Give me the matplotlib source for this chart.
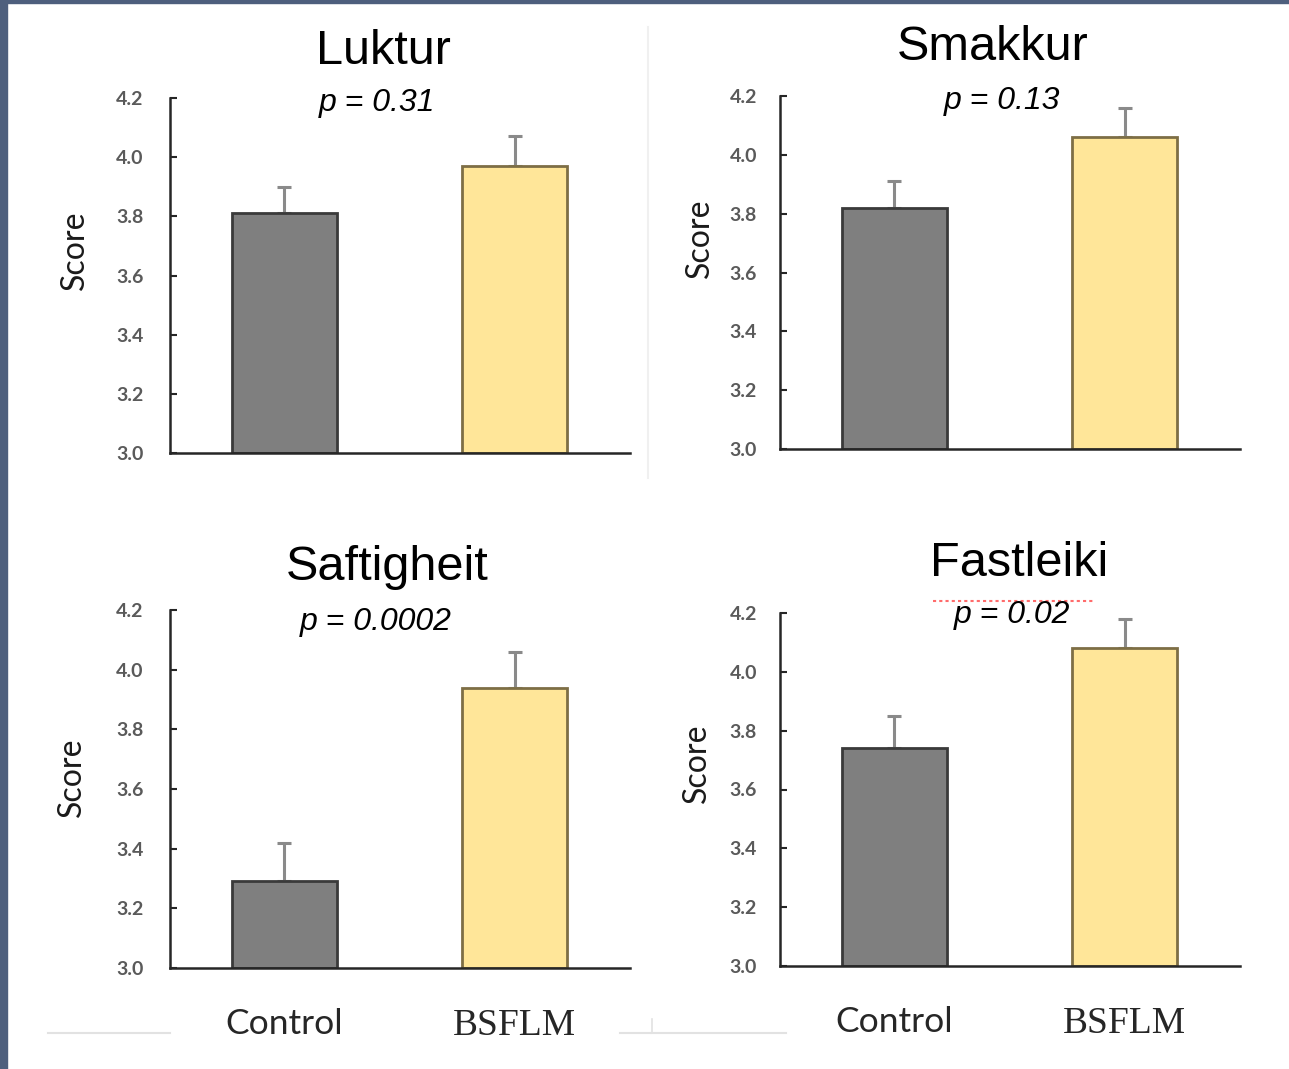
import matplotlib
matplotlib.use("Agg")
import matplotlib.pyplot as plt
from matplotlib.lines import Line2D

# Sensory scores (mean and standard error) per attribute
attributes = ["Luktur", "Smakkur", "Saftigheit", "Fastleiki"]
p_values = ["p = 0.31", "p = 0.13", "p = 0.0002", "p = 0.02"]
groups = ["Control", "BSFLM"]
control_mean = [3.81, 3.82, 3.29, 3.74]
control_se = [0.09, 0.09, 0.13, 0.11]
bsflm_mean = [3.97, 4.06, 3.94, 4.08]
bsflm_se = [0.10, 0.10, 0.12, 0.10]
y_ticks = [3.0, 3.2, 3.4, 3.6, 3.8, 4.0, 4.2]
y_ticklabels = ["3.0", "3.2", "3.4", "3.6", "3.8", "4.0", "4.2"]

W, H = 1289, 1069
fig = plt.figure(figsize=(W / 100, H / 100), dpi=100)
fig.patch.set_facecolor("white")

def fx(px):
    return px / W

def fy(py):
    return 1 - py / H

# slide frame: dark band on the left and top
fig.add_artist(plt.Rectangle((0, 0), fx(7), 1, transform=fig.transFigure,
                             color="#4e5f7d", zorder=0))
fig.add_artist(plt.Rectangle((0, fy(3)), 1, fy(0) - fy(3), transform=fig.transFigure,
                             color="#4e5f7d", zorder=0))

# faint separators
fig.add_artist(Line2D([fx(648), fx(648)], [fy(27), fy(478)], transform=fig.transFigure,
                      color="#f0f0f0", lw=1.5))
for x0, x1 in [(48, 170), (620, 650), (652, 786)]:
    fig.add_artist(Line2D([fx(x0), fx(x1)], [fy(1033), fy(1033)], transform=fig.transFigure,
                          color="#e2e2e2", lw=1.5))
fig.add_artist(Line2D([fx(652), fx(652)], [fy(1019), fy(1033)], transform=fig.transFigure,
                      color="#e2e2e2", lw=1.2))

# panel geometry in pixels: (left, right, y at 4.2, y at 3.0)
panels = [(170, 630, 98, 453), (780, 1240, 96, 449),
          (170, 630, 610, 968), (780, 1240, 613, 966)]
title_pos = [(383, 52), (993, 47), (387, 567), (1019, 563)]
p_pos = [(377, 103), (1002, 101), (376, 622), (1012, 615)]
score_pos = [(75, 250), (700, 238), (72, 777), (697, 763)]

bar_fill = ["#7f7f7f", "#ffe699"]
bar_edge = ["#3a3a3a", "#7d6e45"]

for i, attr in enumerate(attributes):
    L, R, T, B = panels[i]
    ax = fig.add_axes([fx(L), fy(B), fx(R) - fx(L), fy(T) - fy(B)])
    x = [0, 1]
    means = [control_mean[i], bsflm_mean[i]]
    ses = [control_se[i], bsflm_se[i]]
    ax.errorbar(x, means, yerr=[[0, 0], ses], fmt="none", ecolor="#8a8a8a",
                elinewidth=2.2, capsize=5, capthick=2.2, zorder=1)
    ax.bar(x, [m - 3.0 for m in means], bottom=3.0, width=0.455,
           color=bar_fill, edgecolor=bar_edge, linewidth=2.0, zorder=2)
    ax.set_xlim(-0.495, 1.5)
    ax.set_ylim(3.0, 4.2)
    for s in ["top", "right"]:
        ax.spines[s].set_visible(False)
    for s in ["left", "bottom"]:
        ax.spines[s].set_color("#262626")
        ax.spines[s].set_linewidth(1.8)
    ax.spines["bottom"].set_zorder(3)
    ax.set_yticks(y_ticks)
    ax.set_yticklabels(y_ticklabels, fontfamily="Lato", fontsize=14,
                       color="#5a5a5a", fontweight="bold")
    ax.tick_params(axis="y", direction="in", length=5, width=1.5, color="#262626",
                   pad=19 if L < 600 else 16.5)
    if i >= 2:
        ax.set_xticks(x)
        ax.set_xticklabels(groups, color="#262626")
        lbls = ax.get_xticklabels()
        lbls[0].set_fontfamily("Lato")
        lbls[0].set_fontsize(25.5)
        lbls[1].set_fontfamily("Liberation Serif")
        lbls[1].set_fontsize(27)
        ax.tick_params(axis="x", length=0, pad=29)
    else:
        ax.set_xticks([])
    ax.set_facecolor("none")

    tx, ty = title_pos[i]
    fig.text(fx(tx), fy(ty), attr, ha="center", va="center",
             fontfamily="Liberation Sans", fontsize=35, color="black")
    px_, py_ = p_pos[i]
    fig.text(fx(px_), fy(py_), p_values[i], ha="center", va="center",
             fontfamily="Liberation Sans", fontstyle="italic", fontsize=23, color="black")
    sx, sy = score_pos[i]
    fig.text(fx(sx), fy(sy), "Score", ha="center", va="center", rotation=90,
             fontfamily="Lato", fontsize=23, color="#1a1a1a")

# spell-check underline beneath the last p-value
fig.add_artist(Line2D([fx(933), fx(1095)], [fy(601), fy(601)], transform=fig.transFigure,
                      color="#ff6b6b", lw=1.5, linestyle=(0, (1.5, 1.5))))

fig.savefig("out.png", dpi=100)
